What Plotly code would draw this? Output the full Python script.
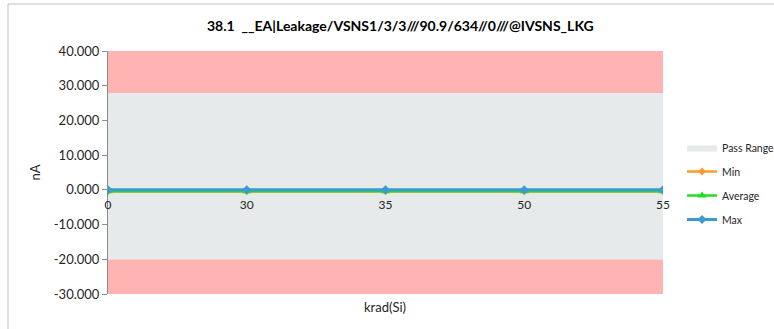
import plotly.graph_objects as go

# Dose steps (categories) and measured leakage per step
dose_labels = ["0", "30", "35", "50", "55"]
min_vals = [-0.45, -0.45, -0.45, -0.45, -0.45]
avg_vals = [-0.4, -0.4, -0.4, -0.4, -0.4]
max_vals = [0.0, 0.0, 0.0, 0.0, 0.0]

# Limits and axis range
upper_limit = 27.8
lower_limit = -20.0
y_min, y_max = -30.0, 40.0
y_tickvals = [40, 30, 20, 10, 0, -10, -20, -30]

title_text = "38.1  __EA|Leakage/VSNS1/3/3///90.9/634//0///@IVSNS_LKG"

FONT = "Lato, 'Open Sans', sans-serif"
TXT = "#262626"

idx = list(range(len(dose_labels)))
x0, x1 = idx[0], idx[-1]

fig = go.Figure()

# Fail region above the upper limit
fig.add_trace(go.Scatter(
    x=[x0, x1, x1, x0, x0], y=[upper_limit, upper_limit, y_max, y_max, upper_limit],
    fill="toself", fillcolor="#FFB3B3", mode="lines", line=dict(width=0),
    showlegend=False, hoverinfo="skip"))
# Fail region below the lower limit
fig.add_trace(go.Scatter(
    x=[x0, x1, x1, x0, x0], y=[y_min, y_min, lower_limit, lower_limit, y_min],
    fill="toself", fillcolor="#FFB3B3", mode="lines", line=dict(width=0),
    showlegend=False, hoverinfo="skip"))
# Pass range
fig.add_trace(go.Scatter(
    x=[x0, x1, x1, x0, x0], y=[lower_limit, lower_limit, upper_limit, upper_limit, lower_limit],
    fill="toself", fillcolor="#E6EAEA", mode="lines", line=dict(width=0),
    name="Pass Range", legendgroup="g0", hoverinfo="skip"))

fig.add_trace(go.Scatter(
    x=idx, y=min_vals, name="Min", mode="lines+markers", legendgroup="g1",
    line=dict(color="#FF9A2E", width=2.5),
    marker=dict(symbol="diamond", size=6, color="#FF9A2E")))
fig.add_trace(go.Scatter(
    x=idx, y=avg_vals, name="Average", mode="lines+markers", legendgroup="g2",
    line=dict(color="#22DD22", width=2.5),
    marker=dict(symbol="triangle-up", size=8, color="#22DD22")))
fig.add_trace(go.Scatter(
    x=idx, y=max_vals, name="Max", mode="lines+markers", legendgroup="g3",
    line=dict(color="#3A9BD0", width=3),
    marker=dict(symbol="diamond", size=7, color="#3A9BD0")))

W, H = 774, 329
L, R, T, B = 108, 111, 51, 35
pw = W - L - R
ph = H - T - B

def px_x(p):
    return (p - L) / pw

def px_y(p):
    return (H - B - p) / ph

zero_pos = (0 - y_min) / (y_max - y_min)

fig.update_layout(
    width=W, height=H,
    margin=dict(l=L, r=R, t=T, b=B, autoexpand=False),
    paper_bgcolor="white", plot_bgcolor="white",
    font=dict(family=FONT, size=13, color=TXT),
    showlegend=True,
    legend=dict(
        x=px_x(682), y=px_y(133), xanchor="left", yanchor="top",
        font=dict(size=10.5, color=TXT), tracegroupgap=5,
        itemwidth=30, bgcolor="rgba(0,0,0,0)"),
    xaxis=dict(
        range=[x0, x1], tickmode="array", tickvals=idx, ticktext=dose_labels,
        anchor="free", position=zero_pos, showgrid=False, zeroline=False,
        showline=False, ticks="", ticklabelstandoff=6,
        tickfont=dict(size=12, color=TXT), fixedrange=True),
    yaxis=dict(
        range=[y_min, y_max], tickvals=y_tickvals,
        ticktext=[f"{v:.3f}" for v in y_tickvals],
        showgrid=False, zeroline=False, showline=True, linecolor="#8C8C8C",
        linewidth=1, ticks="outside", ticklen=5, tickcolor="#8C8C8C",
        tickfont=dict(size=13, color=TXT),
        title=dict(text="nA", font=dict(size=13, color=TXT), standoff=10)),
    annotations=[
        dict(text=f"<b>{title_text}</b>", xref="paper", yref="paper",
             x=px_x(400), y=px_y(25), xanchor="center", yanchor="middle",
             showarrow=False, font=dict(size=14, color="#000000")),
        dict(text="krad(Si)", xref="paper", yref="paper",
             x=px_x(385), y=px_y(307), xanchor="center", yanchor="middle",
             showarrow=False, font=dict(size=13, color=TXT)),
    ],
    shapes=[
        dict(type="rect", xref="paper", yref="paper",
             x0=px_x(8), x1=px_x(800), y0=px_y(340), y1=px_y(4),
             line=dict(color="#BFBFBF", width=1), layer="below"),
    ],
)

fig.write_html("out.html")
